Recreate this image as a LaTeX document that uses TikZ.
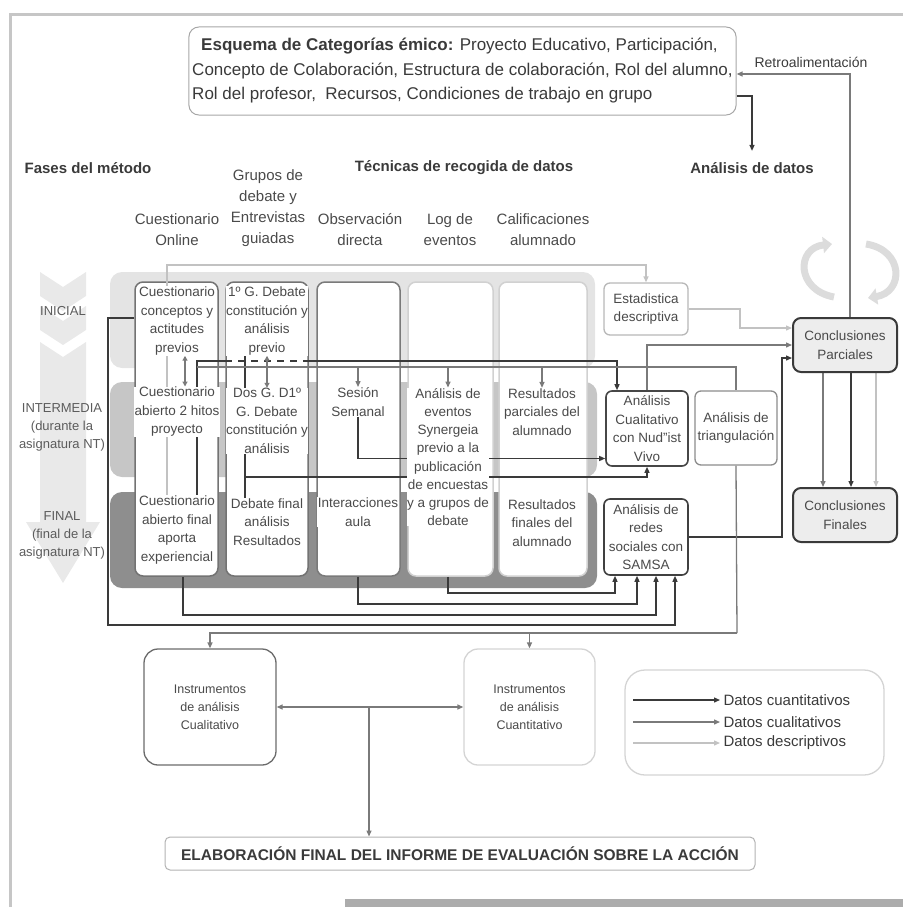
\documentclass[tikz,border=0pt]{standalone}
\usepackage{fontspec}
\setmainfont{Liberation Sans}
\usetikzlibrary{arrows.meta}
\pgfdeclarelayer{bands}
\pgfdeclarelayer{cols}
\pgfdeclarelayer{wires}
\pgfsetlayers{bands,cols,wires,main}
\definecolor{darkln}{HTML}{3A3A3A}
\definecolor{midln}{HTML}{7A7A7A}
\definecolor{lightln}{HTML}{C2C2C2}
\definecolor{txt}{HTML}{4A4A4A}
\definecolor{bandA}{HTML}{E4E4E4}
\definecolor{bandB}{HTML}{C6C6C6}
\definecolor{bandC}{HTML}{8E8E8E}
\definecolor{circ}{HTML}{DCDCDC}
\begin{document}
\begin{tikzpicture}[x=1pt, y=-1pt,
  cuant/.style={draw=darkln, line width=1.3pt, -{Triangle[length=6pt,width=5pt]}},
  cual/.style={draw=midln, line width=1.3pt, -{Triangle[length=6pt,width=5pt]}},
  desc/.style={draw=lightln, line width=1.3pt, -{Triangle[length=6pt,width=5pt]}},
  colbox/.style={rounded corners=8pt, fill=white, line width=1.5pt, minimum height=294pt},
  coltext/.style={font=\fontsize{13.5}{18.5}\selectfont, text=txt, align=center, fill=white, inner sep=0.5pt},
  rbox/.style={rounded corners=6pt, fill=white, line width=1.3pt, font=\fontsize{13.5}{18.5}\selectfont, text=txt, align=center, inner sep=1pt},
  colhead/.style={font=\fontsize{15}{21}\selectfont, text=txt, align=center},
  sectitle/.style={font=\bfseries\fontsize{15}{18}\selectfont, text=darkln},
  phaselbl/.style={font=\fontsize{13}{18}\selectfont, text=txt!90, align=center},
  legtext/.style={font=\fontsize{15}{18}\selectfont, text=darkln, anchor=west}]
\useasboundingbox (0,0) rectangle (903,907);

\begin{pgfonlayer}{bands}
\draw[line width=3pt, bandB] (10,907) -- (10,15) -- (903,15);
\fill[gray!65] (345,899) rectangle (903,907);
% phase arrow
\fill[bandA!80] (40,272) -- (63,287) -- (86,272) -- (86,296) -- (63,311) -- (40,296) -- cycle;
\fill[bandA!80] (40,306) -- (63,321) -- (86,306) -- (86,330) -- (63,345) -- (40,330) -- cycle;
\fill[bandA!80] (40,342) -- (63,357) -- (86,342) -- (86,522) -- (100,522) -- (63,583) -- (26,522) -- (40,522) -- cycle;
% phase bands
\fill[bandA, rounded corners=12pt] (110,272) rectangle (595,368);
\fill[bandB, rounded corners=12pt] (110,382) rectangle (597,477);
\fill[bandC, rounded corners=12pt] (110,492) rectangle (597,588);
% cycle arrows
\draw[line width=7pt, circ, -{Triangle[length=9pt,width=16pt]}] (834,297) .. controls (796,290) and (796,248) .. (832,244);
\draw[line width=7pt, circ, -{Triangle[length=9pt,width=16pt]}] (866,244) .. controls (904,250) and (904,292) .. (868,298);
\end{pgfonlayer}

\begin{pgfonlayer}{cols}
\node[colbox, draw=black!55, minimum width=83pt] (col1) at (176.5,429){};
\node[colbox, draw=black!55, minimum width=82pt] (col2) at (267,429){};
\node[colbox, draw=black!52, minimum width=83pt] (col3) at (358.5,429){};
\node[colbox, draw=black!18, minimum width=85pt] (col4) at (450.5,429){};
\node[colbox, draw=black!18, minimum width=88pt] (col5) at (543,429){};
\end{pgfonlayer}

\node[draw=black!35, line width=1pt, rounded corners=10pt, minimum width=547pt, minimum height=88pt, align=left, font=\fontsize{17}{24.5}\selectfont, text=darkln] (esq) at (462.5,71){\hspace*{9pt}\textbf{Esquema de Categorías émico:} Proyecto Educativo, Participación,\\Concepto de Colaboración, Estructura de colaboración, Rol del alumno,\\Rol del profesor,\ \ Recursos, Condiciones de trabajo en grupo};
\node[font=\fontsize{14}{16}\selectfont, text=darkln] (retro) at (811,62){Retroalimentación};

\node[sectitle] (fases) at (88,168){Fases del método};
\node[sectitle] (tecnicas) at (464,168){Técnicas de recogida de datos};
\node[sectitle] (analisis) at (752,168){Análisis de datos};

\node[colhead] (h1) at (177,230){Cuestionario\\Online};
\node[colhead] (h2) at (268,208){Grupos de\\debate y\\Entrevistas\\guiadas};
\node[colhead] (h3) at (360,230){Observación\\directa};
\node[colhead] (h4) at (450,230){Log de\\eventos};
\node[colhead] (h5) at (543,230){Calificaciones\\alumnado};

\node[phaselbl] (p1) at (63,311){INICIAL};
\node[phaselbl] (p2) at (62,427){INTERMEDIA\\(durante la\\asignatura NT)};
\node[phaselbl] (p3) at (62,535){FINAL\\(final de la\\asignatura NT)};

\node[coltext] (c1a) at (177,321){Cuestionario\\conceptos y\\actitudes\\previos};
\node[coltext] (c1b) at (177,412){Cuestionario\\abierto 2 hitos\\proyecto};
\node[coltext] (c1c) at (177,530){Cuestionario\\abierto final\\aporta\\experiencial};
\node[coltext] (c2a) at (267,321){1º G. Debate\\constitución y\\análisis\\previo};
\node[coltext] (c2b) at (267,421){Dos G. D1º\\G. Debate\\constitución y\\análisis};
\node[coltext] (c2c) at (267,522){Debate final\\análisis\\Resultados};
\node[coltext] (c3b) at (358,402){Sesión\\Semanal};
\node[coltext] (c3c) at (358,512){Interacciones\\aula};
\node[coltext, font=\fontsize{13.5}{18.2}\selectfont] (c4b) at (448,457){Análisis de\\eventos\\Synergeia\\previo a la\\publicación\\de encuestas\\y a grupos de\\debate};
\node[coltext] (c5b) at (542,412){Resultados\\parciales del\\alumnado};
\node[coltext] (c5c) at (542,523){Resultados\\finales del\\alumnado};

\node[rbox, draw=black!28, minimum width=84pt, minimum height=52pt] (estad) at (646,309){Estadistica\\descriptiva};
\node[rbox, draw=black!72, line width=1.6pt, minimum width=82pt, minimum height=75pt] (cuali) at (647,428.5){Análisis\\Cualitativo\\con Nud"ist\\Vivo};
\node[rbox, draw=black!45, minimum width=82pt, minimum height=74pt] (triang) at (736,428){Análisis de\\triangulación};
\node[rbox, draw=black!75, line width=1.6pt, minimum width=84pt, minimum height=76pt] (samsa) at (646,537){Análisis de\\redes\\sociales con\\SAMSA};
\node[rbox, draw=darkln, line width=2pt, fill=black!7, rounded corners=8pt, minimum width=104pt, minimum height=54pt] (parc) at (845,345){Conclusiones\\Parciales};
\node[rbox, draw=darkln, line width=2pt, fill=black!7, rounded corners=8pt, minimum width=104pt, minimum height=54pt] (final) at (845,515){Conclusiones\\Finales};

\node[rbox, draw=black!58, rounded corners=14pt, font=\fontsize{12.5}{18}\selectfont, minimum width=132pt, minimum height=116pt] (instrcual) at (210,707){Instrumentos\\de análisis\\Cualitativo};
\node[rbox, draw=black!17, rounded corners=14pt, font=\fontsize{12.5}{18}\selectfont, minimum width=131pt, minimum height=116pt] (instrcuant) at (529.5,707){Instrumentos\\de análisis\\Cuantitativo};
\node[draw=black!17, line width=1.3pt, rounded corners=20pt, minimum width=259pt, minimum height=105pt] (legend) at (754.5,722.5){};
\node[legtext] (lt1) at (720,700){Datos cuantitativos};
\node[legtext] (lt2) at (720,722){Datos cualitativos};
\node[legtext] (lt3) at (720,743){Datos descriptivos};
\node[draw=black!30, line width=1pt, rounded corners=5pt, minimum width=590pt, minimum height=33pt, font=\bfseries\fontsize{15.5}{18}\selectfont, text=darkln] (elab) at (460,853.5){ELABORACIÓN FINAL DEL INFORME DE EVALUACIÓN SOBRE LA ACCIÓN};

\coordinate (t1) at (167,265);
\coordinate (d1) at (197,361);
\coordinate (d2) at (197,367);
\coordinate (q1) at (245,477);
\coordinate (e1) at (740,328);
\coordinate (s2) at (782,358);
\coordinate (l1) at (108,318);
\coordinate (l2) at (108,625);
\coordinate (l3) at (183,615);
\coordinate (l4) at (358,604);
\coordinate (l5) at (448,593);
\coordinate (r1) at (737,633);
\coordinate (m1) at (369,708);

\begin{pgfonlayer}{wires}
\draw[cuant, shorten >=8pt] ([yshift=-25pt]esq.east) -| (analisis.north);
\draw[cual] ([xshift=5pt]parc.north) |- ([yshift=-3pt]esq.east);
% descriptive data
\draw[desc] (c1c.north -| t1) -- (t1) -| (estad.north);
\draw[desc] (estad.east) -| (e1) -- (e1 -| parc.west);
\draw[cual] (cuali.north) |- (parc.west);
\draw[cuant] (samsa.east) -| (s2) -- (s2 -| parc.west);
\draw[cual] ([xshift=-22pt]parc.south) -- ([xshift=-22pt]final.north);
\draw[cuant] ([xshift=6pt]parc.south) -- ([xshift=6pt]final.north);
\draw[desc] ([xshift=31pt]parc.south) -- ([xshift=31pt]final.north);
% into SAMSA
\draw[cuant] (l1 -| col1.west) -- (l1) -- (l2) -| ([xshift=29pt]samsa.south);
\draw[cuant] (l3 |- col1.south) -- (l3) -| ([xshift=10pt]samsa.south);
\draw[cuant] (l4 |- col3.south) -- (l4) -| ([xshift=-9pt]samsa.south);
\draw[cuant] (l5 |- col4.south) -- (l5) -| ([xshift=-31pt]samsa.south);
% into Nud"ist
\draw[cuant, -] (c1c.north -| d1) -- (d1) -- (d1 -| col2.west);
\draw[cuant, -, dash pattern=on 7pt off 6pt] (d1 -| col2.west) -- (d1 -| col2.east);
\draw[cuant] (d1 -| col2.east) -| ([xshift=-30pt]cuali.north);
\draw[cuant, -] (c2a.south -| q1) -- (c2c.north -| q1);
\draw[cuant] (q1) -| (cuali.south);
\draw[cuant] (c3b.south) |- ([yshift=-30pt]cuali.west);
% triangulation
\draw[cual, -] (d2) -| (triang.north);
\draw[cual, -] (triang.south) -- (r1);
\draw[cual] (r1) -| (instrcual.north);
\draw[cual] (r1 -| instrcuant.north) -- (instrcuant.north);
\foreach \n in {c3b,c4b,c5b} \draw[cual] (\n.north |- d2) -- (\n.north);
\draw[cual, {Triangle[length=5pt,width=5pt]}-{Triangle[length=5pt,width=5pt]}] ([xshift=8pt]c1a.south) -- ([xshift=8pt]c1b.north);
\draw[cual, {Triangle[length=5pt,width=5pt]}-{Triangle[length=5pt,width=5pt]}] (c2a.south) -- (c2b.north);
% report
\draw[cual, {Triangle[length=6pt,width=5pt]}-{Triangle[length=6pt,width=5pt]}] (instrcual.east) -- (instrcuant.west);
\draw[cual] (m1) -- (m1 |- elab.north);
% legend
\draw[cuant] ([xshift=9pt]legend.west |- lt1) -- (lt1.west);
\draw[cual] ([xshift=9pt]legend.west |- lt2) -- (lt2.west);
\draw[desc] ([xshift=9pt]legend.west |- lt3) -- (lt3.west);
\end{pgfonlayer}

\end{tikzpicture}
\end{document}
